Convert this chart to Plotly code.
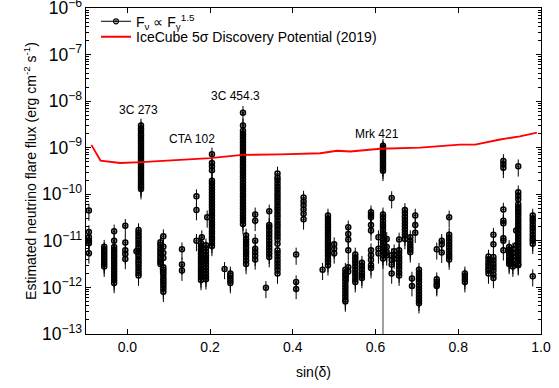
import math
import plotly.graph_objects as go

# ---- data ----
source_sin_dec = [
    -0.093, -0.056, -0.032, -0.005, 0.022, 0.027, 0.033, 0.080, 0.087, 0.132,
    0.167, 0.180, 0.193, 0.178, 0.190, 0.2045, 0.235, 0.249, 0.2795, 0.287,
    0.309, 0.335, 0.343, 0.363, 0.408, 0.426, 0.472, 0.485, 0.500, 0.527,
    0.534, 0.551, 0.567, 0.589, 0.607, 0.618, 0.618, 0.627, 0.639, 0.645,
    0.657, 0.671, 0.684, 0.696, 0.688, 0.705, 0.748, 0.760, 0.778, 0.816,
    0.873, 0.885, 0.909, 0.923, 0.932, 0.945, 0.940, 0.980,
]
source_fluxes = [
    [4.5e-11, 1.55e-11, 1.2e-11, 1.0e-11, 8.9e-12, 5.4e-12],
    [7.5e-12, 6.6e-12, 5.9e-12, 5.2e-12, 4.6e-12, 4.1e-12, 3.6e-12, 3.2e-12, 2.8e-12],
    [1.6e-11, 1.0e-11, 7.4e-12, 6.5e-12, 5.7e-12, 5.0e-12, 4.4e-12, 3.8e-12, 3.3e-12, 2.9e-12,
     2.5e-12, 2.2e-12, 1.9e-12, 1.65e-12, 1.45e-12, 1.25e-12],
    [2.1e-11, 9.2e-12, 6.3e-12, 5.2e-12, 4.1e-12],
    [6.0e-12],
    [1.7e-11, 1.5e-11, 1.3e-11, 1.15e-11, 1.0e-11, 8.8e-12, 7.7e-12, 6.8e-12, 6.0e-12, 5.2e-12,
     4.6e-12, 4.0e-12, 3.5e-12, 3.1e-12, 2.7e-12, 2.35e-12, 2.05e-12, 1.8e-12],
    [3.0e-9, 2.6e-9, 2.3e-9, 2.0e-9, 1.8e-9, 1.6e-9, 1.4e-9, 1.25e-9, 1.1e-9, 9.8e-10,
     8.7e-10, 7.7e-10, 6.8e-10, 6.0e-10, 5.3e-10, 4.7e-10, 4.2e-10, 3.7e-10, 3.3e-10, 2.9e-10,
     2.6e-10, 2.3e-10, 2.0e-10, 1.8e-10, 1.6e-10, 1.45e-10, 1.3e-10],
    [9.3e-12, 8.2e-12, 7.2e-12, 6.4e-12, 5.6e-12, 5.0e-12, 4.4e-12, 3.9e-12, 3.5e-12, 3.2e-12],
    [1.26e-11, 7.5e-12, 5.5e-12, 4.3e-12, 2.7e-12, 2.4e-12, 2.1e-12, 1.85e-12, 1.6e-12, 1.4e-12,
     1.25e-12, 1.1e-12, 9.5e-13, 8.1e-13],
    [6.6e-12, 3.1e-12, 2.3e-12],
    [9.1e-11, 4.6e-11, 1.0e-11],
    [1.2e-11],
    [3.2e-11],
    [8.9e-12, 7.8e-12, 6.8e-12, 6.0e-12, 5.2e-12, 4.5e-12, 3.9e-12, 3.4e-12, 2.9e-12, 2.5e-12,
     2.2e-12, 1.9e-12, 1.65e-12, 1.45e-12],
    [8.0e-12, 6.9e-12, 5.8e-12, 5.0e-12, 4.3e-12, 3.7e-12, 3.2e-12, 2.7e-12, 2.3e-12, 2.0e-12,
     1.7e-12, 1.5e-12],
    [7.2e-10, 4.7e-10, 4.0e-10, 3.3e-10, 1.95e-10, 1.7e-10, 1.45e-10, 1.25e-10, 1.08e-10, 9.3e-11,
     8.0e-11, 6.9e-11, 6.0e-11, 5.2e-11, 4.5e-11, 3.9e-11, 3.4e-11, 2.9e-11, 2.5e-11, 2.2e-11,
     1.9e-11, 1.6e-11, 1.4e-11, 1.2e-11, 1.05e-11, 9.0e-12, 7.8e-12],
    [2.5e-12],
    [2.0e-12, 1.8e-12, 1.6e-12, 1.4e-12, 1.25e-12],
    [5.6e-9, 3.0e-9, 2.3e-9, 2.0e-9, 1.75e-9, 1.5e-9, 1.3e-9, 1.15e-9, 1.0e-9, 8.7e-10,
     7.5e-10, 6.5e-10, 5.6e-10, 4.9e-10, 4.2e-10, 3.7e-10, 3.2e-10, 2.8e-10, 2.4e-10, 2.1e-10,
     1.8e-10, 1.55e-10, 1.35e-10, 1.17e-10, 1.0e-10, 8.7e-11, 7.5e-11, 6.5e-11, 5.6e-11, 4.9e-11,
     4.2e-11, 3.6e-11, 3.1e-11, 2.7e-11, 2.3e-11],
    [1.3e-11, 1.1e-11, 9.5e-12, 8.2e-12, 7.0e-12, 6.0e-12, 5.2e-12, 4.5e-12, 3.8e-12, 3.2e-12],
    [3.7e-11, 2.7e-11, 1.0e-11, 6.8e-12, 5.7e-12, 4.8e-12, 4.0e-12],
    [9.8e-13],
    [4.3e-11, 2.2e-11, 1.95e-11, 1.65e-11, 1.4e-11, 1.2e-11, 1.0e-11, 8.6e-12, 7.3e-12, 6.2e-12,
     5.3e-12, 4.5e-12],
    [2.8e-10, 2.3e-10, 2.0e-10, 1.7e-10, 1.45e-10, 1.25e-10, 1.07e-10, 9.2e-11, 7.9e-11, 6.8e-11,
     5.8e-11, 5.0e-11, 4.3e-11, 3.7e-11, 3.2e-11, 2.7e-11, 2.3e-11, 2.0e-11, 1.7e-11, 1.45e-11,
     1.25e-11, 1.07e-11, 8.7e-12, 6.3e-12, 5.4e-12, 4.6e-12, 3.9e-12, 3.3e-12, 2.8e-12, 2.4e-12,
     2.0e-12],
    [5.1e-12, 1.3e-12, 9.3e-13],
    [8.5e-11, 7.0e-11, 5.8e-11, 4.7e-11, 3.8e-11, 2.9e-11],
    [2.4e-12],
    [3.5e-11, 3.0e-11, 2.6e-11, 2.25e-11, 1.95e-11, 1.7e-11, 1.5e-11, 1.3e-11, 1.12e-11, 9.7e-12,
     8.4e-12, 7.3e-12, 6.3e-12, 5.5e-12, 4.8e-12, 4.1e-12, 3.5e-12, 3.0e-12],
    [8.5e-12, 6.8e-12, 5.4e-12],
    [2.4e-12, 2.05e-12, 1.8e-12, 1.55e-12, 1.35e-12, 1.15e-12, 1.0e-12, 8.6e-13, 7.4e-13, 6.4e-13,
     5.5e-13, 5.0e-13],
    [1.95e-11, 1.4e-11, 1.07e-11, 6.3e-12, 2.7e-12, 2.2e-12],
    [5.1e-12, 4.4e-12, 3.8e-12, 3.3e-12, 2.8e-12, 2.4e-12, 2.05e-12, 1.75e-12, 1.5e-12, 1.3e-12],
    [3.4e-12, 2.9e-12, 2.5e-12, 2.1e-12, 1.8e-12, 1.6e-12],
    [4.1e-11, 3.6e-11, 3.2e-11, 2.2e-11, 1.67e-11, 6.3e-12, 4.9e-12, 3.9e-12, 3.0e-12, 2.6e-12],
    [1.2e-11, 6.8e-12, 5.4e-12],
    [3.7e-11, 3.2e-11, 2.7e-11, 2.3e-11, 2.0e-11, 1.7e-11, 1.45e-11, 1.25e-11, 1.07e-11, 9.2e-12,
     7.9e-12, 6.8e-12, 5.8e-12, 5.0e-12, 4.2e-12],
    [1.1e-9, 1.0e-9, 9.0e-10, 8.1e-10, 7.3e-10, 6.5e-10, 5.8e-10, 5.2e-10, 4.6e-10, 4.1e-10,
     3.6e-10, 3.2e-10],
    [1.1e-11, 7.4e-12, 5.7e-12, 4.9e-12],
    [8.3e-11, 4.9e-12, 3.9e-12, 3.1e-12, 2.0e-12],
    [6.0e-12, 5.0e-12, 4.2e-12],
    [1.07e-11, 6.3e-12, 5.4e-12, 4.6e-12, 4.0e-12, 3.4e-12, 2.9e-12, 2.5e-12, 2.1e-12, 1.8e-12],
    [4.6e-11, 3.9e-11, 3.3e-11, 2.8e-11, 2.4e-11, 2.05e-11, 1.75e-11, 1.5e-11, 1.3e-11, 1.1e-11],
    [1.2e-11, 1.0e-11, 8.6e-12, 7.4e-12, 6.5e-12, 5.7e-12],
    [3.5e-11, 2.2e-11, 1.5e-11],
    [1.55e-12, 1.07e-12],
    [2.4e-12, 2.05e-12, 1.75e-12, 1.5e-12, 1.3e-12, 1.1e-12, 9.5e-13, 8.2e-13, 7.0e-13, 6.0e-13,
     5.2e-13, 4.6e-13],
    [6.6e-12, 1.5e-12, 1.3e-12, 1.15e-12, 1.07e-12],
    [1.0e-11, 8.5e-12, 5.6e-12],
    [3.2e-11, 1.35e-11, 1.15e-11, 9.8e-12, 8.4e-12, 7.2e-12, 6.1e-12, 5.2e-12, 4.6e-12, 4.0e-12],
    [2.0e-12, 1.75e-12, 1.5e-12, 1.3e-12],
    [4.6e-12, 4.0e-12, 3.4e-12, 3.0e-12, 2.6e-12, 2.3e-12, 2.0e-12],
    [1.35e-11, 8.5e-12, 4.5e-12, 3.8e-12, 3.2e-12, 2.7e-12, 2.3e-12, 1.9e-12, 1.6e-12],
    [5.2e-10, 4.4e-10, 3.7e-10, 4.7e-11, 2.7e-11, 2.4e-11, 1.14e-11, 1.0e-11, 6.3e-12],
    [7.4e-12, 6.4e-12, 5.5e-12, 4.7e-12, 4.0e-12, 3.5e-12, 3.2e-12],
    [6.5e-12, 5.5e-12, 4.6e-12, 3.8e-12, 3.2e-12, 2.8e-12],
    [4.0e-10, 1.1e-10, 9.3e-11, 7.8e-11, 6.1e-11, 5.3e-11, 4.6e-11, 4.0e-11, 3.5e-11, 3.0e-11,
     2.6e-11, 2.25e-11, 1.95e-11, 1.7e-11, 1.45e-11, 1.25e-11, 1.07e-11, 9.2e-12, 7.9e-12, 6.8e-12,
     5.8e-12, 5.0e-12, 4.3e-12, 3.7e-12, 3.2e-12, 3.0e-12],
    [1.67e-11, 8.0e-12],
    [3.5e-11, 3.0e-11, 2.6e-11, 2.2e-11, 1.9e-11, 1.6e-11, 1.35e-11, 1.15e-11, 1.0e-11, 8.7e-12,
     1.74e-12],
]

# long (gray) error bar reaching the axis
long_err_x = [0.618]
long_err_y = [5.7e-12]
long_err_minus = [5.69e-12]

# IceCube 5 sigma discovery potential (2019)
icecube_sin_dec = [-0.087, -0.065, -0.017, 0.034, 0.20, 0.278, 0.37, 0.466, 0.507, 0.539,
                   0.611, 0.708, 0.804, 0.841, 0.901, 0.949, 0.99]
icecube_flux = [1.15e-9, 5.3e-10, 4.7e-10, 4.9e-10, 6.0e-10, 7.0e-10, 7.2e-10, 7.6e-10, 8.6e-10,
                8.3e-10, 9.5e-10, 1.0e-9, 1.17e-9, 1.17e-9, 1.5e-9, 1.75e-9, 2.1e-9]

label_names = ["3C 273", "CTA 102", "3C 454.3", "Mrk 421"]
label_x = [0.027, 0.157, 0.261, 0.604]
label_y = [6.4e-9, 1.55e-9, 1.26e-8, 1.95e-9]

x_tick_vals = [0.0, 0.2, 0.4, 0.6, 0.8, 1.0]

# ---- build figure ----
pts_x, pts_y = [], []
for sx, fl in zip(source_sin_dec, source_fluxes):
    for f in fl:
        pts_x.append(sx)
        pts_y.append(f)

marker_style = dict(symbol="circle-open-dot", size=5, color="black",
                    line=dict(width=1.5, color="black"))

fig = go.Figure()
fig.add_trace(go.Scatter(
    x=long_err_x, y=long_err_y, mode="markers", showlegend=False,
    marker=dict(size=1, color="rgba(0,0,0,0)"),
    error_y=dict(type="data", symmetric=False, array=[0], arrayminus=long_err_minus,
                 color="#808080", thickness=1.5, width=0),
))
fig.add_trace(go.Scatter(
    x=pts_x, y=pts_y, mode="markers", showlegend=False,
    marker=marker_style,
    error_y=dict(type="percent", value=40, color="black", thickness=1, width=0),
))
fig.add_trace(go.Scatter(
    x=[None], y=[None], mode="lines+markers", legend="legend",
    name="F<sub>ν</sub> ∝ F<sub>γ</sub><sup>1.5</sup>",
    line=dict(color="black", width=1),
    marker=dict(symbol="circle-open-dot", size=5, color="black", line=dict(width=1.2, color="black")),
))
fig.add_trace(go.Scatter(
    x=icecube_sin_dec, y=icecube_flux, mode="lines", legend="legend2",
    name="IceCube 5σ Discovery Potential (2019)",
    line=dict(color="red", width=1.8),
))

for t, lx, ly in zip(label_names, label_x, label_y):
    fig.add_annotation(x=lx, y=math.log10(ly), yref="y", xref="x", text=t, showarrow=False,
                       font=dict(size=12, color="black"))

font_family = "Liberation Sans, Arial, sans-serif"
legend_common = dict(xanchor="left", yanchor="middle", bgcolor="rgba(0,0,0,0)",
                     font=dict(size=14), borderwidth=0)
fig.update_layout(
    width=559, height=388,
    margin=dict(l=86, r=18, t=6, b=54),
    paper_bgcolor="white", plot_bgcolor="white",
    font=dict(family=font_family, color="black", size=13),
    showlegend=True,
    legend=dict(x=0.022, y=0.958, **legend_common),
    legend2=dict(x=0.022, y=0.9106, **legend_common),
    xaxis=dict(
        range=[-0.1, 1.0], tickvals=x_tick_vals, tickformat=".1f",
        showline=True, linecolor="black", linewidth=1, mirror="ticks",
        ticks="inside", ticklen=5, tickcolor="black", showgrid=False, zeroline=False,
        title=dict(text="sin(δ)", font=dict(size=14), standoff=13),
        tickfont=dict(size=14), automargin=False, ticklabeloverflow="allow",
    ),
    yaxis=dict(
        type="log", range=[-13, -6], dtick=1, exponentformat="power",
        showline=True, linecolor="black", linewidth=1, mirror="ticks",
        ticks="inside", ticklen=5, tickcolor="black", showgrid=False, zeroline=False,
        minor=dict(ticks="inside", ticklen=3, tickcolor="black", showgrid=False),
        title=dict(text="Estimated neutrino flare flux (erg cm<sup>-2</sup> s<sup>-1</sup>)",
                   font=dict(size=14), standoff=2),
        tickfont=dict(size=14), automargin=False, ticklabeloverflow="allow",
    ),
)

fig.write_html("out.html", config={"displayModeBar": False},
               post_script="document.body.style.margin='0';document.body.style.padding='0';")
